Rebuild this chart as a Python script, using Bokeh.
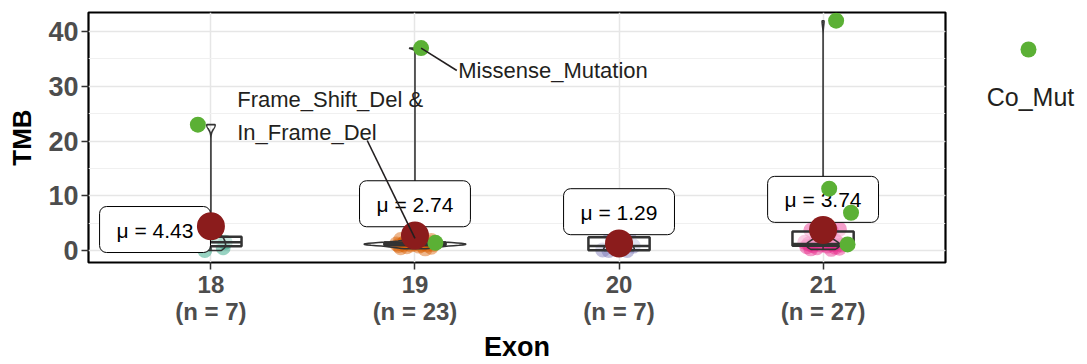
import numpy as np
from bokeh.plotting import figure
from bokeh.models import ColumnDataSource, Range1d, FixedTicker, SingleIntervalTicker
from bokeh.layouts import row
from bokeh.embed import file_html
from bokeh.resources import INLINE
from bokeh.core.properties import value

# ---------------- data ----------------
exons = ["18", "19", "20", "21"]
group_colors = ["#1B9E77", "#D95F02", "#7570B3", "#E7298A"]

tmb_18 = [0.0, 0.5, 1.0, 1.5, 2.5, 2.5]
jit_18 = [-0.03, 0.06, -0.05, 0.07, 0.02, -0.02]

tmb_19 = [0.3, 0.5, 0.6, 0.7, 0.8, 0.9, 1.0, 1.0, 1.0, 1.1, 1.1, 1.2, 1.2, 1.3, 1.3, 1.4, 1.5, 1.6, 1.8, 2.0, 2.3]
jit_19 = [0.05, -0.07, 0.08, -0.04, 0.02, -0.08, 0.06, -0.02, 0.03, -0.06, 0.09, 0.0, -0.09, 0.04, -0.03, 0.07, -0.05, 0.01, 0.08, -0.07, 0.03]

tmb_20 = [0.0, 0.0, 0.1, 0.8, 2.0, 2.8, 3.3]
jit_20 = [-0.05, 0.04, -0.08, 0.07, -0.03, -0.04, 0.05]

tmb_21 = [0.2, 0.3, 0.4, 0.5, 0.6, 0.7, 0.8, 0.9, 1.0, 1.0, 1.1, 1.2, 1.2, 1.3, 1.4, 1.5, 1.6, 1.8, 3.3, 3.6, 3.7, 3.9, 7.7]
jit_21 = [0.04, -0.06, 0.08, -0.03, 0.06, -0.08, 0.02, -0.05, 0.09, -0.01, 0.05, -0.07, 0.03, -0.04, 0.07, -0.09, 0.01, 0.06, -0.02, 0.04, -0.06, 0.08, 0.01]

co_mut_exon = ["18", "19", "19", "21", "21", "21", "21"]
co_mut_tmb = [23.0, 37.0, 1.4, 42.0, 11.3, 6.9, 1.1]
co_mut_jit = [-0.064, 0.03, 0.10, 0.064, 0.03, 0.137, 0.12]

legend_label = "Co_Mut"

annot_texts = ["Missense_Mutation", "Frame_Shift_Del &\nIn_Frame_Del"]
annot_text_x = [2.212, 1.129]
annot_text_y = [32.9, 24.6]
annot_from_x = [2.205, 1.766]
annot_from_y = [32.9, 20.1]
annot_to_x = [2.03, 2.0]
annot_to_y = [37.0, 2.2]

mean_label_dx = [-0.274, 0.0, 0.0, 0.0]
mean_label_dy = [-0.6, 5.8, 5.8, 5.6]

# ---------------- derived ----------------
colored = [tmb_18, tmb_19, tmb_20, tmb_21]
jitters = [jit_18, jit_19, jit_20, jit_21]
groups = []
for i, e in enumerate(exons):
    extra = [t for ex, t in zip(co_mut_exon, co_mut_tmb) if ex == e]
    groups.append(np.array(colored[i] + extra, dtype=float))
pos = [i + 1 for i in range(len(exons))]


def nrd0(x):
    hi = np.std(x, ddof=1)
    q75, q25 = np.percentile(x, [75, 25])
    lo = min(hi, (q75 - q25) / 1.34)
    if lo == 0:
        lo = hi if hi > 0 else 1.0
    return 0.9 * lo * len(x) ** -0.2


dens_list = []
for g in groups:
    bw = nrd0(g)
    ys = np.linspace(g.min(), g.max(), 512)
    d = np.exp(-0.5 * ((ys[:, None] - g[None, :]) / bw) ** 2).sum(axis=1) / (len(g) * bw * np.sqrt(2 * np.pi))
    dens_list.append((ys, d))
dmax = max(d.max() for _, d in dens_list)

TXT = "#231F20"
GRAY = "#4D4D4D"
DARK = "#333333"

p = figure(width=960, height=364, x_range=Range1d(0.4, 4.6), y_range=Range1d(-2.2, 43.5),
           output_backend="svg", toolbar_location=None,
           min_border_left=88, min_border_right=15, min_border_top=12, min_border_bottom=102)
p.background_fill_color = "white"
p.border_fill_color = "white"
p.outline_line_color = "black"
p.outline_line_width = 2.2

# axes
p.xaxis.ticker = FixedTicker(ticks=pos)
p.xaxis.major_label_overrides = {pos[i]: f"{exons[i]}\n(n = {len(groups[i])})" for i in range(len(exons))}
p.yaxis.ticker = SingleIntervalTicker(interval=10, num_minor_ticks=2)
p.xgrid.ticker = p.xaxis.ticker
p.ygrid.ticker = p.yaxis.ticker
p.xaxis.axis_label = "Exon"
p.yaxis.axis_label = "TMB"
for ax in (p.xaxis, p.yaxis):
    ax.axis_line_color = None
    ax.major_tick_in = 0
    ax.major_tick_out = 7
    ax.major_tick_line_color = DARK
    ax.major_tick_line_width = 1.5
    ax.minor_tick_line_color = None
    ax.major_label_text_font_style = "bold"
    ax.major_label_text_color = GRAY
    ax.axis_label_text_font_style = "bold"
    ax.axis_label_text_color = "black"
p.xaxis.major_label_text_font = "Liberation Sans"
p.xaxis.major_label_text_font_size = "24px"
p.xaxis.major_label_text_line_height = 1.0
p.xaxis.major_label_standoff = 1
p.xaxis.axis_label_text_font = "Liberation Sans"
p.xaxis.axis_label_text_font_size = "27px"
p.xaxis.axis_label_standoff = 4
p.yaxis.major_label_text_font = "Liberation Sans"
p.yaxis.major_label_text_font_size = "27px"
p.yaxis.major_label_standoff = 3
p.yaxis.axis_label_text_font = "Liberation Sans"
p.yaxis.axis_label_text_font_size = "26px"
p.yaxis.axis_label_standoff = 8

p.xgrid.grid_line_color = "#E6E6E6"
p.xgrid.grid_line_width = 1.5
p.ygrid.grid_line_color = "#E6E6E6"
p.ygrid.grid_line_width = 1.5
p.ygrid.minor_grid_line_color = "#F0F0F0"
p.ygrid.minor_grid_line_width = 1.2

# jittered points
jx, jy, jc = [], [], []
for i in range(len(exons)):
    for t, j in zip(colored[i], jitters[i]):
        jx.append(pos[i] + j)
        jy.append(t)
        jc.append(group_colors[i])
p.scatter(x="x", y="y", source=ColumnDataSource(dict(x=jx, y=jy, c=jc)), size=15,
          fill_color="c", fill_alpha=0.45, line_color=None)

# boxplots
bl, br, bb, bt, med, wl, wh = [], [], [], [], [], [], []
for i, g in enumerate(groups):
    q1, q2, q3 = np.percentile(g, [25, 50, 75])
    iqr = q3 - q1
    lo = g[g >= q1 - 1.5 * iqr].min()
    hi = g[g <= q3 + 1.5 * iqr].max()
    bl.append(pos[i] - 0.15); br.append(pos[i] + 0.15)
    bb.append(q1); bt.append(q3); med.append(q2); wl.append(lo); wh.append(hi)
p.segment(x0=pos, y0=bt, x1=pos, y1=wh, line_color=DARK, line_width=1.5)
p.segment(x0=pos, y0=bb, x1=pos, y1=wl, line_color=DARK, line_width=1.5)
p.quad(left=bl, right=br, bottom=bb, top=bt, fill_color="white", fill_alpha=0.5,
       line_color=DARK, line_width=2.5)
p.segment(x0=bl, y0=med, x1=br, y1=med, line_color=DARK, line_width=2.5)

# violins (scale = area, width 0.5)
for i, (ys, d) in enumerate(dens_list):
    hw = 0.25 * d / dmax
    xs = np.concatenate([pos[i] - hw, (pos[i] + hw)[::-1]])
    yy = np.concatenate([ys, ys[::-1]])
    p.patch(xs, yy, fill_alpha=0.0, line_color=DARK, line_width=1.6)

# mean labels
means = [float(np.mean(g)) for g in groups]
lab_src = ColumnDataSource(dict(
    x=[pos[i] + mean_label_dx[i] for i in range(len(exons))],
    y=[means[i] + mean_label_dy[i] for i in range(len(exons))],
    t=[f"\u03bc = {m:.2f}" for m in means]))
p.text(x="x", y="y", text="t", source=lab_src, text_font=value("Liberation Sans"),
       text_font_size="21px", text_color="black", text_align="center", text_baseline="middle",
       background_fill_color="white", border_line_color="black", border_line_width=1,
       padding=dict(left=17, right=17, top=12, bottom=11), border_radius=7)

# co-mutation points
cx = [pos[exons.index(e)] + j for e, j in zip(co_mut_exon, co_mut_jit)]
p.scatter(cx, co_mut_tmb, size=16, fill_color="#5BB035", line_color=None)

# mean points
p.scatter(pos, means, size=28, fill_color="#8B1C1C", line_color=None)

# annotations
p.segment(x0=annot_from_x, y0=annot_from_y, x1=annot_to_x, y1=annot_to_y, line_color=TXT, line_width=1.6)
p.text(x=annot_text_x, y=annot_text_y, text=annot_texts, text_font=value("Liberation Sans"),
       text_font_size="22px", text_color=TXT, text_align="left", text_baseline="middle",
       text_line_height=1.3)

# legend panel (its frame is aligned with the main frame: 12..262 px)
lg = figure(width=127, height=364, x_range=Range1d(0, 127), y_range=Range1d(262, 12),
            output_backend="svg", toolbar_location=None, min_border=0,
            x_axis_location=None, y_axis_location=None)
lg.grid.visible = False
lg.outline_line_color = None
lg.background_fill_color = "white"
lg.border_fill_color = "white"
lg.scatter([68], [49], size=16, fill_color="#5BB035", line_color=None)
lg.text([70], [96], text=[legend_label], text_font=value("Liberation Sans"), text_font_size="25px",
        text_color=TXT, text_align="center", text_baseline="middle")

layout = row(p, lg)
open("out.html", "w").write(file_html(layout, INLINE))
